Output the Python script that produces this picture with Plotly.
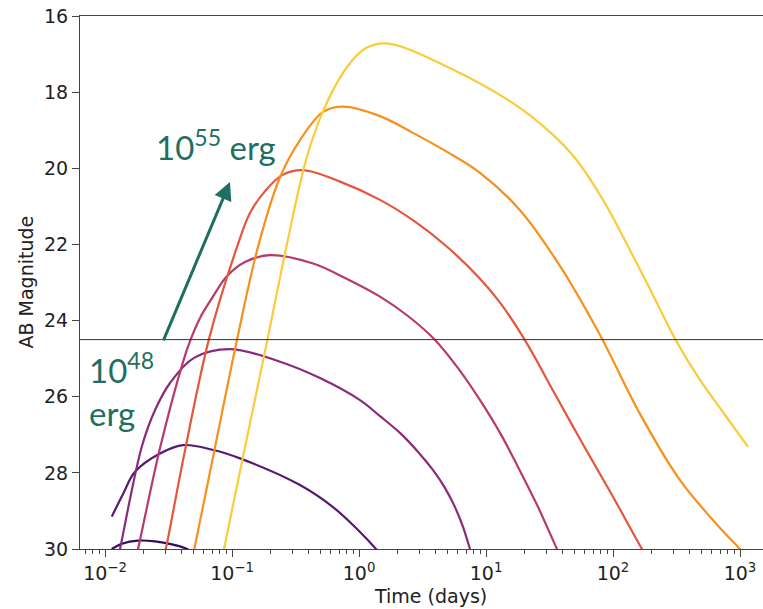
import plotly.graph_objects as go

# ---- data (time in days, AB magnitude) ----
energy_labels = ["1e48 erg", "1e49 erg", "1e50 erg", "1e51 erg", "1e52 erg", "1e53 erg", "1e54 erg"]

t48 = [0.0113, 0.0136, 0.0182, 0.0248, 0.0337, 0.0443, 0.047]
m48 = [30.0, 29.86, 29.78, 29.80, 29.88, 30.0, 30.06]

t49 = [0.0113, 0.01393, 0.01722, 0.0271, 0.0414, 0.0713, 0.1156, 0.343, 0.624, 0.982, 1.36, 1.60]
m49 = [29.15, 28.54, 27.97, 27.49, 27.27, 27.40, 27.62, 28.32, 28.90, 29.50, 30.0, 30.29]

t50 = [0.0124, 0.01312, 0.01945, 0.02477, 0.0325, 0.0502, 0.0964, 0.239, 0.493, 1.018, 1.463,
       2.10, 2.92, 3.83, 4.76, 5.70, 6.59, 7.48, 7.90]
m50 = [30.37, 30.0, 27.32, 26.35, 25.64, 24.98, 24.75, 25.08, 25.51, 26.09, 26.51,
       26.95, 27.45, 27.93, 28.40, 28.90, 29.42, 30.0, 30.24]

t51 = [0.0172, 0.0182, 0.0271, 0.0411, 0.0467, 0.0560, 0.0696, 0.0914, 0.1265, 0.199, 0.435,
       0.776, 1.463, 2.43, 3.97, 6.02, 8.97, 12.9, 17.9, 25.2, 36.2, 39.7]
m51 = [30.34, 30.0, 27.35, 25.09, 24.54, 23.93, 23.41, 22.83, 22.46, 22.28, 22.50,
       22.88, 23.37, 23.88, 24.51, 25.25, 26.09, 26.95, 27.85, 28.84, 30.0, 30.29]

t52 = [0.0281, 0.0301, 0.0427, 0.0659, 0.1094, 0.1387, 0.182, 0.248, 0.362, 0.709, 1.463,
       2.76, 4.93, 8.97, 12.9, 20.3, 34.9, 58.0, 98.2, 169.0, 189.0]
m52 = [30.42, 30.0, 27.40, 24.48, 22.07, 21.17, 20.60, 20.18, 20.05, 20.35, 20.83,
       21.40, 22.06, 22.90, 23.53, 24.52, 25.93, 27.25, 28.58, 30.0, 30.26]

t53 = [0.0475, 0.0505, 0.0722, 0.1094, 0.160, 0.239, 0.343, 0.521, 0.748, 1.463, 2.66,
       4.93, 8.97, 18.5, 38.3, 79.0, 163.0, 337.0, 696.0, 1000.0, 1199.0]
m53 = [30.42, 30.0, 27.45, 24.51, 22.07, 20.23, 19.26, 18.52, 18.38, 18.63, 19.07,
       19.57, 20.12, 21.10, 22.57, 24.38, 26.45, 28.19, 29.45, 30.0, 30.29]

t54 = [0.0819, 0.0865, 0.122, 0.189, 0.271, 0.383, 0.521, 0.805, 1.135, 1.66, 4.93,
       16.3, 31.9, 50.2, 83.4, 136.0, 203.0, 308.0, 484.0, 762.0, 1156.0]
m54 = [30.37, 30.0, 27.58, 24.54, 21.99, 19.78, 18.50, 17.34, 16.84, 16.72, 17.33,
       18.29, 19.05, 19.73, 20.83, 22.15, 23.28, 24.48, 25.56, 26.48, 27.32]

series_t = [t48, t49, t50, t51, t52, t53, t54]
series_m = [m48, m49, m50, m51, m52, m53, m54]
colors = ["#2d1160", "#561a70", "#8a2a7c", "#b93a6a", "#e3583c", "#f7901c", "#fbcb3a"]

limit_mag = 24.5
y_ticks = [16, 18, 20, 22, 24, 26, 28, 30]
x_tick_vals = [1e-2, 1e-1, 1e0, 1e1, 1e2, 1e3]
x_tick_text = ["10<sup>\u22122</sup>", "10<sup>\u22121</sup>", "10<sup>0</sup>",
               "10<sup>1</sup>", "10<sup>2</sup>", "10<sup>3</sup>"]
x_minor_vals = [m * 10.0 ** e for e in range(-3, 4) for m in range(2, 10)]

teal = "#1e6f5f"
tick_font = dict(family="DejaVu Sans", size=19, color="#222")

fig = go.Figure()
for t, m, c, name in zip(series_t, series_m, colors, energy_labels):
    fig.add_trace(go.Scatter(x=t, y=m, mode="lines", name=name,
                             line=dict(color=c, width=2.2, shape="spline", smoothing=1.0),
                             showlegend=False))

fig.add_shape(type="line", xref="paper", x0=0, x1=1, yref="y", y0=limit_mag, y1=limit_mag,
              line=dict(color="#333333", width=1))

# arrow (log10 coordinates on the log x axis)
fig.add_annotation(x=-1.016, y=20.36, ax=-1.545, ay=24.56, xref="x", yref="y",
                   axref="x", ayref="y", showarrow=True, arrowhead=2, arrowsize=1.2,
                   arrowwidth=3, arrowcolor=teal, text="")

fig.add_annotation(x=(154 - 80) / 683, y=(549 - 145) / 533, xref="paper", yref="paper",
                   xanchor="left", yanchor="middle", showarrow=False,
                   text="10<sup>55</sup> erg", font=dict(family="Lato", size=33, color=teal))
fig.add_annotation(x=(87 - 80) / 683, y=(549 - 368) / 533, xref="paper", yref="paper",
                   xanchor="left", yanchor="middle", showarrow=False,
                   text="10<sup>48</sup>", font=dict(family="Lato", size=33, color=teal))
fig.add_annotation(x=(87 - 80) / 683, y=(549 - 413) / 533, xref="paper", yref="paper",
                   xanchor="left", yanchor="middle", showarrow=False,
                   text="erg", font=dict(family="Lato", size=33, color=teal))

# axis titles
fig.add_annotation(x=(430 - 80) / 683, y=0, xref="paper", yref="paper", yshift=-47,
                   xanchor="center", yanchor="middle", showarrow=False,
                   text="Time (days)", font=tick_font)
fig.add_annotation(x=0, y=0.5, xref="paper", yref="paper", xshift=-55,
                   xanchor="center", yanchor="middle", showarrow=False, textangle=-90,
                   text="AB Magnitude", font=tick_font)

fig.update_layout(
    width=763, height=609,
    margin=dict(l=80, r=0, t=16, b=60),
    plot_bgcolor="white", paper_bgcolor="white",
    xaxis=dict(type="log", range=[-2.197, 3.181], showgrid=False, zeroline=False,
               showline=True, linecolor="#444", linewidth=1, mirror=True,
               ticks="outside", ticklen=7, tickwidth=1, tickcolor="#444",
               tickmode="array", tickvals=x_tick_vals, ticktext=x_tick_text,
               tickfont=tick_font,
               minor=dict(tickmode="array", tickvals=x_minor_vals, ticks="outside",
                          ticklen=4, tickwidth=1, tickcolor="#444", showgrid=False)),
    yaxis=dict(range=[30, 16], showgrid=False, zeroline=False,
               showline=True, linecolor="#444", linewidth=1, mirror=False,
               ticks="outside", ticklen=7, tickwidth=1, tickcolor="#444",
               tickmode="array", tickvals=y_ticks, tickfont=tick_font),
)

fig.write_html("out.html")
